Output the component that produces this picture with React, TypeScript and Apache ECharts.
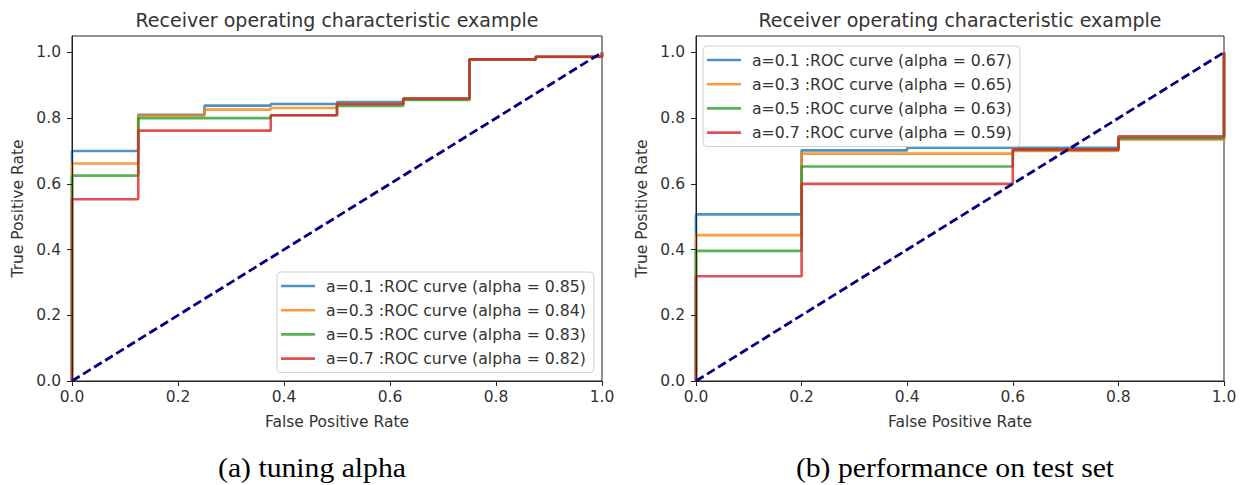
import React, { useEffect, useRef } from "react";
import * as echarts from "echarts";

// ---------- data ----------
const TITLE = "Receiver operating characteristic example";
const CAPTION_A = "(a) tuning alpha";
const CAPTION_B = "(b) performance on test set";
const X_LABEL = "False Positive Rate";
const Y_LABEL = "True Positive Rate";
const TICKS = [0, 0.2, 0.4, 0.6, 0.8, 1.0];

const SERIES_NAMES_A = [
  "a=0.1 :ROC curve (alpha = 0.85)",
  "a=0.3 :ROC curve (alpha = 0.84)",
  "a=0.5 :ROC curve (alpha = 0.83)",
  "a=0.7 :ROC curve (alpha = 0.82)",
];
const SERIES_NAMES_B = [
  "a=0.1 :ROC curve (alpha = 0.67)",
  "a=0.3 :ROC curve (alpha = 0.65)",
  "a=0.5 :ROC curve (alpha = 0.63)",
  "a=0.7 :ROC curve (alpha = 0.59)",
];

// false positive rate breakpoints
const FPR_A = [0, 0.125, 0.25, 0.375, 0.5, 0.625, 0.75, 0.875, 1];
// true positive rate level on each FPR interval
const TPR_A_01 = [0.70, 0.81, 0.838, 0.843, 0.849, 0.86, 0.979, 0.987];
const TPR_A_03 = [0.662, 0.808, 0.826, 0.831, 0.843, 0.858, 0.979, 0.987];
const TPR_A_05 = [0.625, 0.80, 0.80, 0.809, 0.837, 0.855, 0.978, 0.986];
const TPR_A_07 = [0.553, 0.762, 0.762, 0.809, 0.843, 0.86, 0.979, 0.987];

const FPR_B = [0, 0.2, 0.4, 0.6, 0.8, 1];
const TPR_B_01 = [0.507, 0.702, 0.71, 0.71, 0.737];
const TPR_B_03 = [0.444, 0.692, 0.692, 0.70, 0.735];
const TPR_B_05 = [0.396, 0.653, 0.653, 0.703, 0.74];
const TPR_B_07 = [0.319, 0.60, 0.60, 0.705, 0.745];

const CHANCE = [
  [0, 0],
  [1, 1],
];

const COLORS = ["#1f77b4", "#ff7f0e", "#2ca02c", "#d62728"];
const FONT = "DejaVu Sans";

function staircase(fpr: number[], levels: number[]): number[][] {
  const pts: number[][] = [[fpr[0], 0]];
  for (let i = 0; i < levels.length; i++) {
    pts.push([fpr[i], levels[i]]);
    pts.push([fpr[i + 1], levels[i]]);
  }
  pts.push([fpr[fpr.length - 1], 1]);
  return pts;
}

export default function App() {
  const ref = useRef<HTMLDivElement>(null);

  useEffect(() => {
    document.body.style.margin = "0";
    if (!ref.current) return;
    const chart = echarts.init(ref.current, null, { renderer: "svg" });

    const grids = [
      { left: 72, top: 36, width: 530, height: 345 },
      { left: 696, top: 36, width: 528, height: 345 },
    ];

    const axisText = { fontFamily: FONT, fontSize: 15.5, color: "#333" };

    const xAxes = grids.map((_, i) => ({
      type: "value",
      gridIndex: i,
      z: 20,
      min: 0,
      max: 1,
      interval: 0.2,
      name: X_LABEL,
      nameLocation: "middle",
      nameGap: 33,
      nameTextStyle: axisText,
      axisLine: { show: true, lineStyle: { color: "#222", width: 1 } },
      axisTick: { show: true, length: 5, lineStyle: { color: "#222" } },
      axisLabel: { ...axisText, margin: 8, formatter: (v: number) => v.toFixed(1) },
      splitLine: { show: false },
    }));

    const yAxes = grids.map((_, i) => ({
      type: "value",
      gridIndex: i,
      z: 20,
      min: 0,
      max: 1.05,
      name: Y_LABEL,
      nameLocation: "middle",
      nameGap: 46,
      nameRotate: 90,
      nameTextStyle: axisText,
      axisLine: { show: true, lineStyle: { color: "#222", width: 1 } },
      axisTick: { show: true, length: 5, customValues: TICKS, lineStyle: { color: "#222" } },
      axisLabel: {
        ...axisText,
        margin: 11,
        customValues: TICKS,
        formatter: (v: number) => v.toFixed(1),
      },
      splitLine: { show: false },
    }));

    const rocSeries = (
      names: string[],
      fpr: number[],
      levels: number[][],
      idx: number
    ) =>
      names.map((name, k) => ({
        type: "line",
        name,
        xAxisIndex: idx,
        yAxisIndex: idx,
        data: staircase(fpr, levels[k]),
        symbol: "none",
        lineStyle: { color: COLORS[k], width: 2.6, opacity: 0.8 },
        itemStyle: { color: COLORS[k], opacity: 0.8 },
        z: 2 + k,
      }));

    const chanceSeries = (idx: number) => ({
      type: "line",
      name: "chance" + idx,
      xAxisIndex: idx,
      yAxisIndex: idx,
      data: CHANCE,
      symbol: "none",
      lineStyle: { color: "navy", width: 2.8, type: [9, 4] },
      z: 10,
    });

    const legendBase = {
      orient: "vertical",
      icon: "path://M0,0L34,0L34,2.6L0,2.6Z",
      itemWidth: 34,
      itemHeight: 14,
      itemGap: 8.2,
      padding: [6, 8, 6, 4],
      borderColor: "#d0d0d0",
      borderWidth: 1,
      borderRadius: 4,
      backgroundColor: "rgba(255,255,255,0.8)",
      textStyle: {
        fontFamily: FONT,
        fontSize: 15.7,
        color: "#333",
        padding: [0, 0, 0, 6],
      },
    };

    const titleText = (x: number, text: string) => ({
      type: "text",
      x,
      y: 20,
      style: {
        text,
        fontFamily: FONT,
        fontSize: 19,
        fill: "#333",
        textAlign: "center",
        textVerticalAlign: "middle",
      },
    });

    const captionText = (x: number, text: string) => ({
      type: "text",
      x,
      y: 468,
      scaleX: 1.1,
      style: {
        text,
        fontFamily: "Liberation Serif",
        fontSize: 27,
        fill: "#000",
        textAlign: "center",
        textVerticalAlign: "middle",
      },
    });

    chart.setOption({
      animation: false,
      grid: grids.map((g) => ({
        ...g,
        show: true,
        borderColor: "#222",
        borderWidth: 1,
        backgroundColor: "transparent",
      })),
      xAxis: xAxes,
      yAxis: yAxes,
      legend: [
        { ...legendBase, data: SERIES_NAMES_A, left: 277, top: 272 },
        { ...legendBase, data: SERIES_NAMES_B, left: 703, top: 46 },
      ],
      series: [
        ...rocSeries(SERIES_NAMES_A, FPR_A, [TPR_A_01, TPR_A_03, TPR_A_05, TPR_A_07], 0),
        chanceSeries(0),
        ...rocSeries(SERIES_NAMES_B, FPR_B, [TPR_B_01, TPR_B_03, TPR_B_05, TPR_B_07], 1),
        chanceSeries(1),
      ],
      graphic: [
        titleText(337, TITLE),
        titleText(960, TITLE),
        captionText(312, CAPTION_A),
        captionText(955, CAPTION_B),
      ],
    });

    return () => chart.dispose();
  }, []);

  return <div ref={ref} style={{ width: 1241, height: 485 }} />;
}
